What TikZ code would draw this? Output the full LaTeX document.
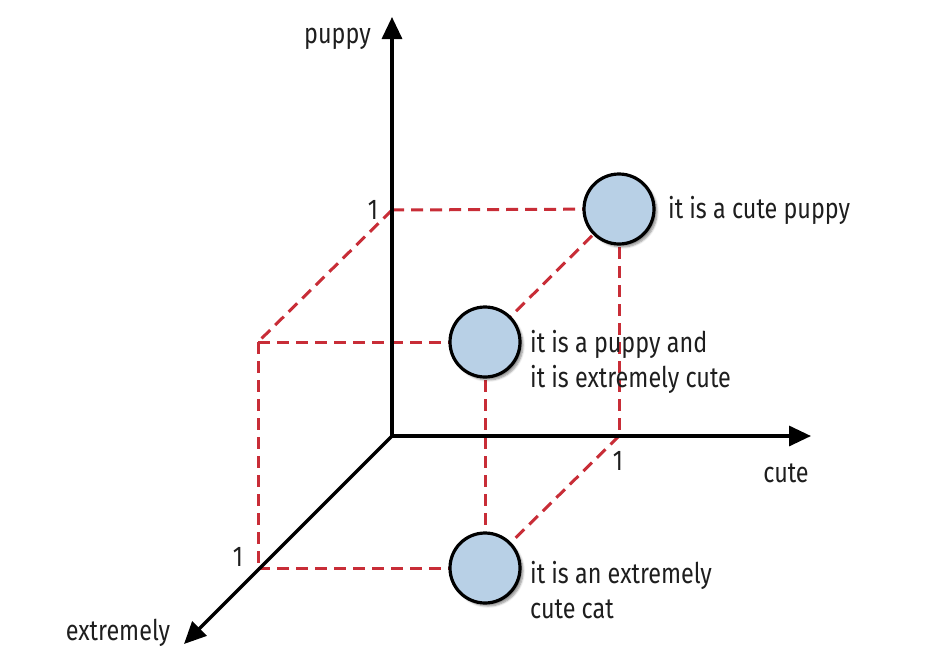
\documentclass[tikz,border=0pt]{standalone}
\usepackage{fontspec}
\setmainfont[FakeStretch=0.82]{Fira Sans}
\usetikzlibrary{arrows.meta,shadows.blur}
\definecolor{dashred}{RGB}{200,45,55}
\definecolor{ballblue}{RGB}{184,208,230}
\definecolor{txt}{RGB}{30,30,30}
\begin{document}
\begin{tikzpicture}[x=1pt,y=-1pt,
  axis/.style={line width=3.3pt,-{Triangle[length=22pt,width=20pt]}},
  guide/.style={dashred,line width=3pt,dash pattern=on 12pt off 7pt},
  ball/.style={circle,minimum size=70pt,inner sep=0pt,draw=black,line width=3.2pt,fill=ballblue,
    blur shadow={shadow xshift=3pt,shadow yshift=-3pt,shadow blur steps=6,shadow opacity=45}},
  lbl/.style={inner sep=0pt,text=txt,font=\fontsize{28.5}{35}\selectfont,align=left}]
\useasboundingbox (0,0) rectangle (944,664);
\coordinate (O) at (392,436);
\coordinate (ytip) at (392,17);
\coordinate (xtip) at (811,436);
\coordinate (ztip) at (184,644);
\coordinate (x1) at (619,436);
\coordinate (y1) at (392,210);
\coordinate (z1) at (258,568);
\coordinate (yz) at (258,342);
\coordinate (xyc) at (619,209);
\coordinate (xyzc) at (485,342);
\coordinate (xzc) at (485,568);
% dashed guides
\draw[guide] (y1) -- (xyc);
\draw[guide] (y1) -- (yz);
\draw[guide] (yz) -- (xyzc);
\draw[guide] (yz) -- (z1);
\draw[guide] (z1) -- (xzc);
\draw[guide] (xyzc) -- (xzc);
\draw[guide] (xyc) -- (x1);
\draw[guide] (xyc) -- (xyzc);
\draw[guide] (x1) -- (xzc);
% axes
\draw[axis] (O) -- (ytip);
\draw[axis] (O) -- (xtip);
\draw[axis] (O) -- (ztip);
% balls
\node[ball] (xy) at (xyc) {};
\node[ball] (xyz) at (xyzc) {};
\node[ball] (xz) at (xzc) {};
% labels
\node[lbl,anchor=east] (lpuppy) at (371,39) {puppy};
\node[lbl] (lcute) at (786,473) {cute};
\node[lbl] (lext) at (118,633) {extremely};
\node[lbl] (one1) at (373,210) {1};
\node[lbl] (one2) at (238,557) {1};
\node[lbl] (one3) at (618,461) {1};
\node[lbl,anchor=west] (t1) at (668,210) {it is a cute puppy};
\node[lbl,anchor=west] (t2) at (530,362) {it is a puppy and\\it is extremely cute};
\node[lbl,anchor=west] (t3) at (530,590) {it is an extremely\\cute cat};
\end{tikzpicture}
\end{document}
